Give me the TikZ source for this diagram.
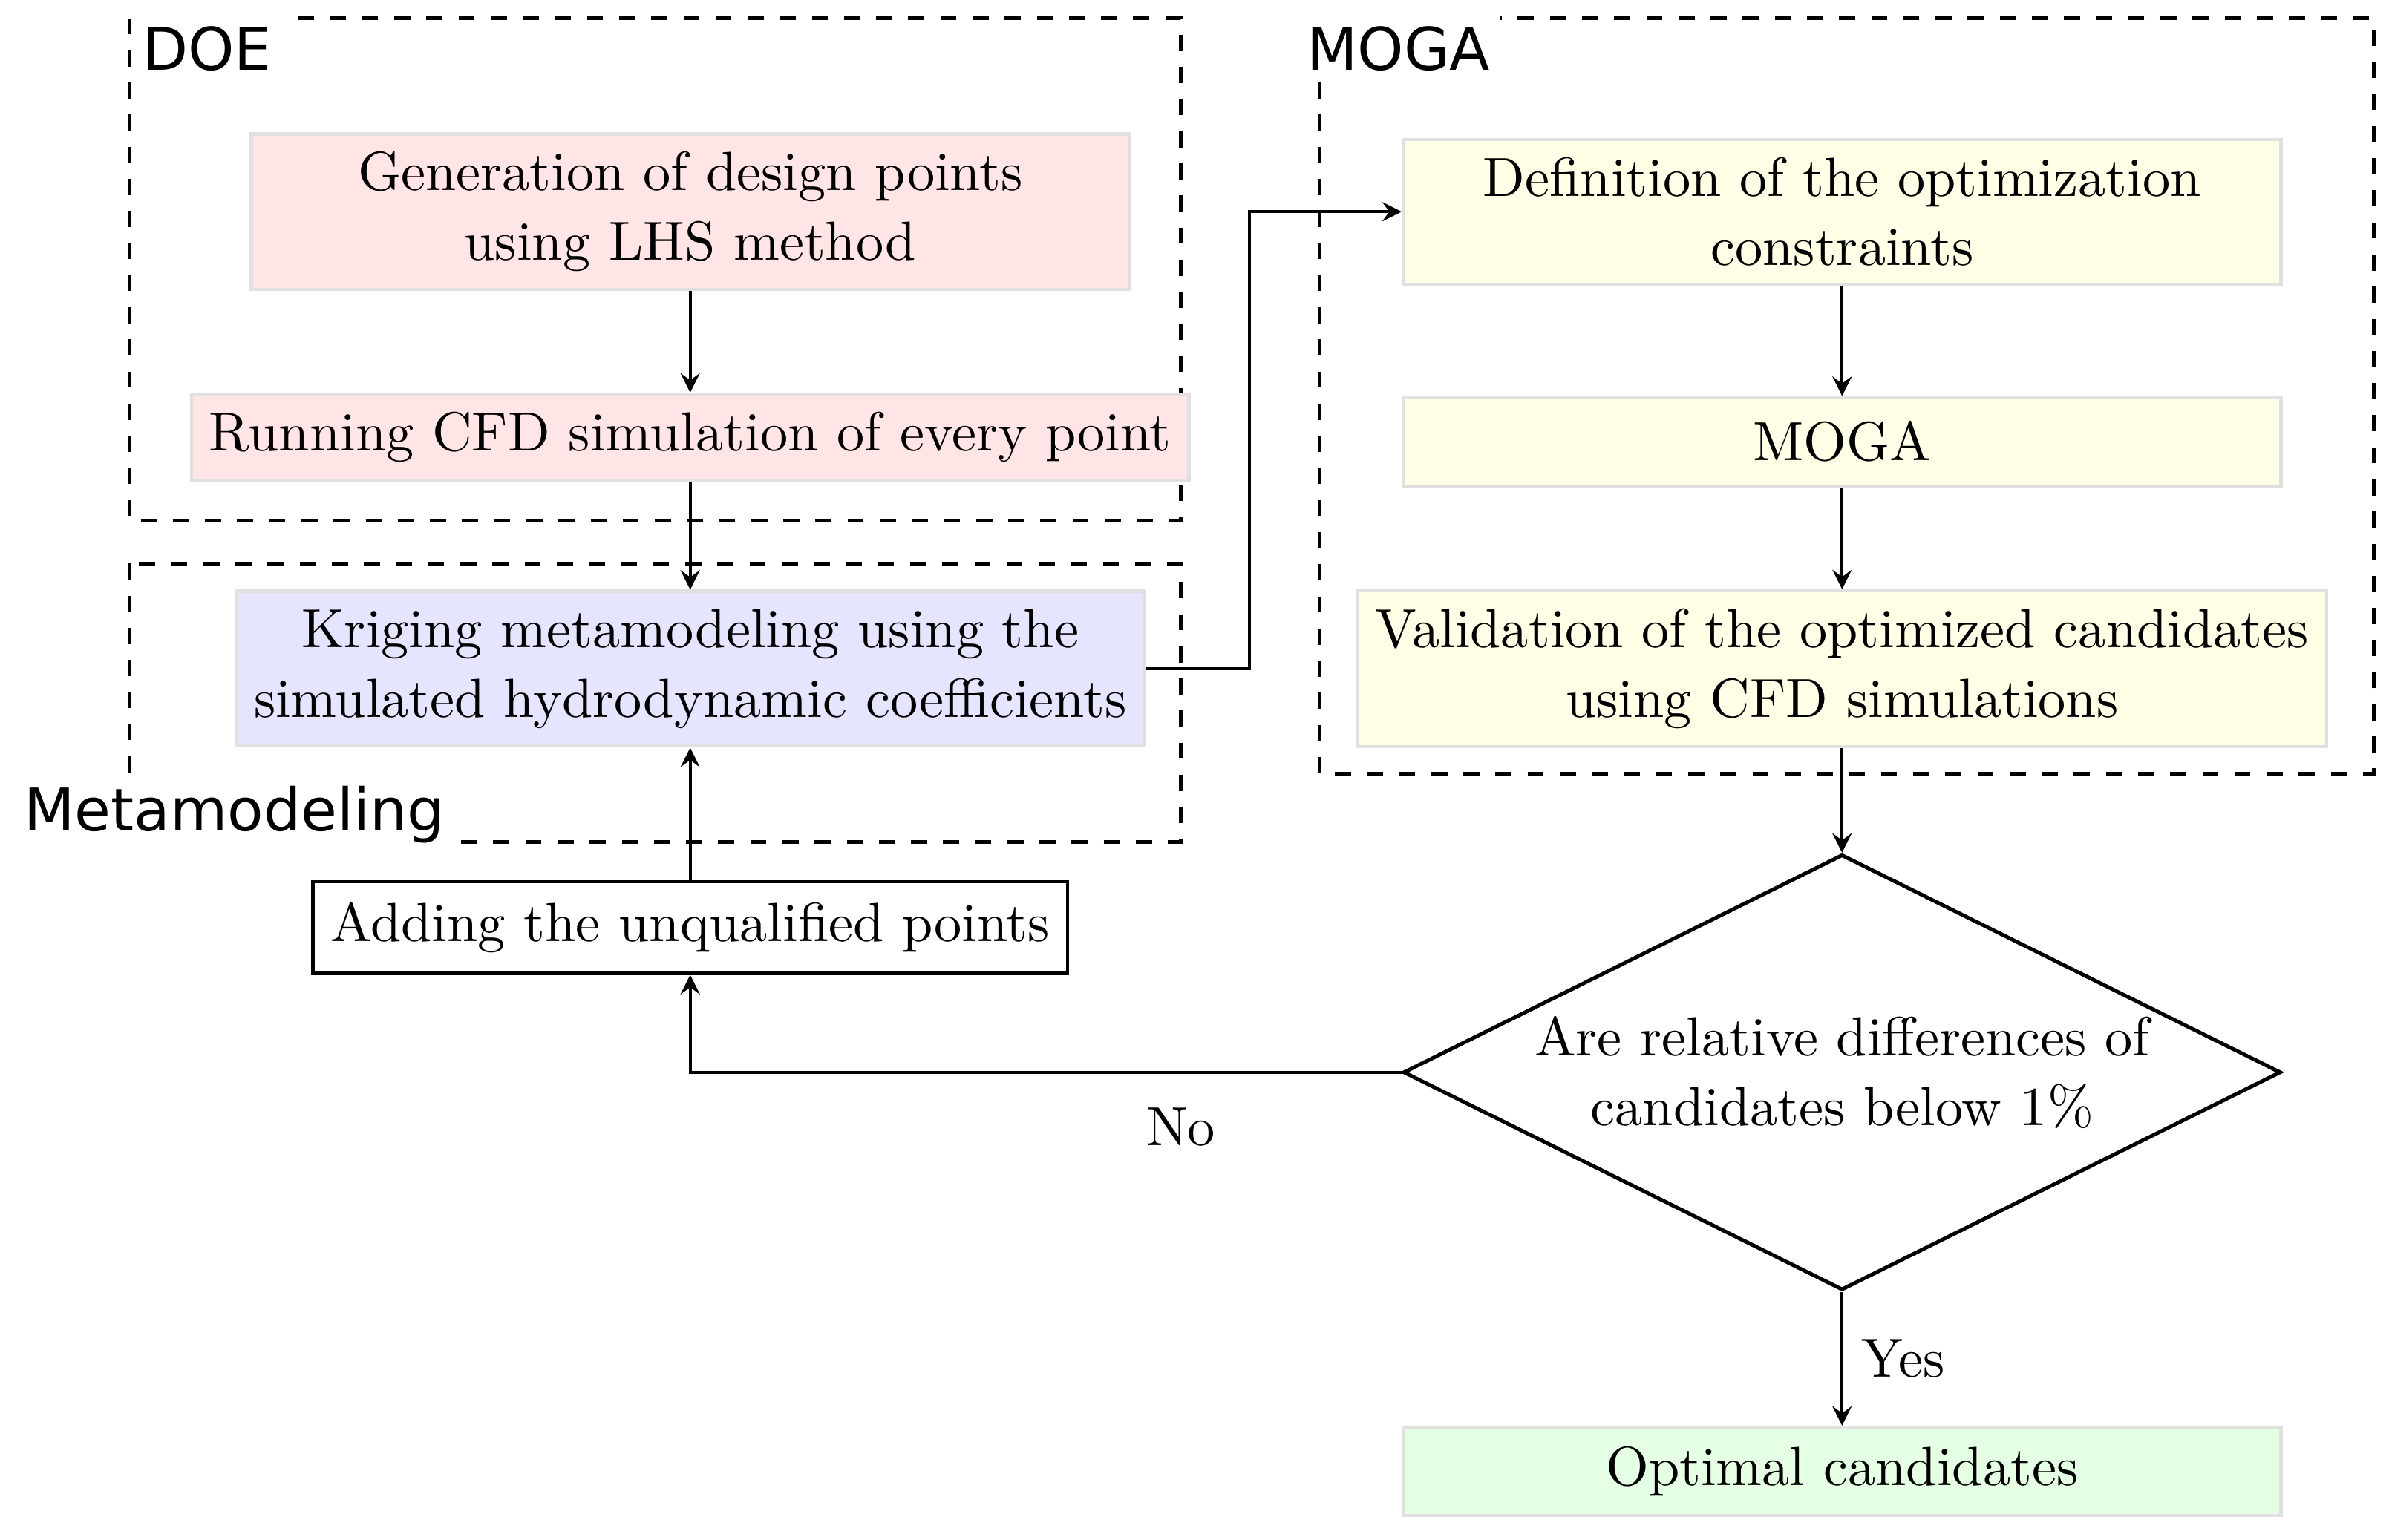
\documentclass[tikz,border=0pt]{standalone}
\usepackage{fontspec}
\newfontfamily\labelfont{DejaVu Sans}
\usetikzlibrary{shapes.geometric,positioning}
\tikzset{
  stage/.style={rectangle, draw=black!12, line width=0.6pt, minimum width=5.76cm, align=center, font=\fontsize{10.3}{13}\selectfont},
  group/.style={dashed, line width=0.7pt},
  grouplabel/.style={font=\labelfont\fontsize{11}{13}\selectfont, fill=white, inner sep=2pt},
  flow/.style={->, >=stealth, line width=0.6pt}
}
\begin{document}
\begin{tikzpicture}
  \useasboundingbox (0,0) rectangle (15.68,-10.11);
  % dashed groups
  \draw[group] (0.85,-0.12) rectangle (7.75,-3.42);
  \draw[group] (0.85,-3.70) rectangle (7.75,-5.53);
  \draw[group] (8.66,-0.12) rectangle (15.58,-5.08);
  \node[grouplabel, anchor=west] (doe) at (0.86,-0.32) {DOE};
  \node[grouplabel, anchor=west] (meta) at (0.08,-5.35) {Metamodeling};
  \node[grouplabel, anchor=west] (mogal) at (8.50,-0.32) {MOGA};

  % stages
  \node[stage, fill=red!10, minimum height=0.98cm] (gen) at (4.53,-1.39) {Generation of design points\\using LHS method};
  \node[stage, fill=red!10, minimum width=5.98cm, minimum height=0.56cm] (run) at (4.53,-2.87) {Running CFD simulation of every point};
  \node[stage, fill=blue!10, minimum height=0.98cm] (krig) at (4.53,-4.39) {Kriging metamodeling using the\\simulated hydrodynamic coefficients};
  \node[stage, draw=black, minimum width=4.62cm, minimum height=0.60cm] (add) at (4.53,-6.09) {Adding the unqualified points};
  \node[stage, fill=yellow!10, minimum height=0.90cm] (def) at (12.09,-1.39) {Definition of the optimization\\constraints};
  \node[stage, fill=yellow!10, minimum height=0.58cm] (moga) at (12.09,-2.90) {MOGA};
  \node[stage, fill=yellow!10, minimum width=5.80cm, minimum height=0.98cm] (valid) at (12.09,-4.39) {Validation of the optimized candidates\\using CFD simulations};
  \node[diamond, draw=black, line width=0.7pt, shape aspect=2, minimum width=5.76cm, minimum height=2.86cm, inner sep=0pt, align=center, font=\fontsize{10.3}{13}\selectfont] (check) at (12.09,-7.04) {Are relative differences of\\candidates below 1\%};
  \node[stage, fill=green!10, minimum height=0.58cm] (opt) at (12.09,-9.66) {Optimal candidates};

  % connectors
  \draw[flow] (gen) -- (run);
  \draw[flow] (run) -- (krig);
  \draw[flow] (add) -- (krig);
  \coordinate (bend) at (8.20,-4.39);
  \draw[flow] (krig.east) -- (bend) |- (def.west);
  \draw[flow] (def) -- (moga);
  \draw[flow] (moga) -- (valid);
  \draw[flow] (valid) -- (check);
  \draw[flow] (check) -- node[right, font=\fontsize{10.3}{13}\selectfont] {Yes} (opt);
  \draw[flow] (check.west) -| (add.south);
  \node[font=\fontsize{10.3}{13}\selectfont] (no) at (7.75,-7.40) {No};
\end{tikzpicture}
\end{document}
